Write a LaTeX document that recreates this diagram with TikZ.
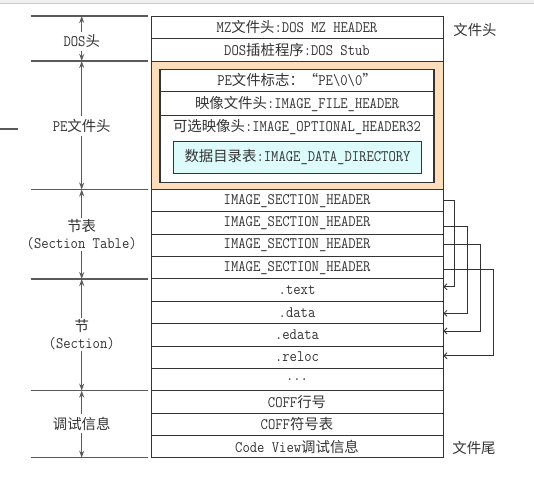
\documentclass[tikz,border=0pt]{standalone}
\usepackage{fontspec}
\newfontfamily\mono{Latin Modern Mono}[FakeStretch=0.89]
\newfontfamily\cjk{Noto Sans CJK SC}[Scale=0.9]
\newcommand\zh[1]{{\cjk #1}}
\usetikzlibrary{arrows.meta,calc}
\definecolor{peach}{HTML}{FDDDBB}
\definecolor{lcyan}{HTML}{DDFBFB}
\definecolor{ink}{HTML}{333333}
\definecolor{rulegray}{HTML}{5A5A5A}
\begin{document}
\begin{tikzpicture}[x=1pt,y=-1pt,
  every node/.style={font=\fontsize{16}{17}\selectfont\mono, text=ink},
  row/.style={draw=ink, line width=0.9pt, minimum width=292pt, minimum height=22.35pt, inner sep=0pt, fill=white},
  irow/.style={draw=ink, line width=0.9pt, minimum width=274pt, inner sep=0pt},
  brule/.style={draw=rulegray, line width=1.4pt},
  barr/.style={draw=rulegray, line width=1.2pt, -{Stealth[length=7pt,width=5pt]}},
  conn/.style={draw=ink, line width=0.8pt, -{Straight Barb[length=3pt,width=6pt]}},
  lbl/.style={inner sep=3pt, align=center, fill=white}
]
\useasboundingbox (0,0) rectangle (534,478);
% top bar
\fill[gray!12] (0,0) rectangle (534,3.5);
\draw[gray!40, line width=0.8pt] (0,3.5) -- (534,3.5);

% main column
\node[row, minimum height=22.5pt] (mz) at (297,27.25) {MZ\zh{文件头}:DOS MZ HEADER};
\node[row, minimum height=22.5pt] (stub) at (297,49.75) {DOS\zh{插桩程序}:DOS Stub};
\node[draw=ink, line width=0.9pt, fill=peach, minimum width=292pt, minimum height=128.5pt, inner sep=0pt] (pe) at (297,125.25) {};
\node[draw=ink, line width=1.4pt, fill=white, minimum width=274pt, minimum height=113pt, inner sep=0pt] (peinner) at (297,125.8) {};
\node[irow, minimum height=22.4pt] (pesig) at (297,80.5) {PE\zh{文件标志：“}PE\textbackslash 0\textbackslash 0\zh{”}};
\node[irow, minimum height=23.8pt] (fhdr) at (297,103.6) {\zh{映像文件头}:IMAGE\_FILE\_HEADER};
\node[inner sep=0pt] (ohdr) at (297,127) {\zh{可选映像头}:IMAGE\_OPTIONAL\_HEADER32};
\node[draw=ink, line width=1pt, fill=lcyan, minimum width=248.4pt, minimum height=32pt, inner sep=0pt] (ddir) at (297.5,157.3) {\zh{数据目录表}:IMAGE\_DATA\_DIRECTORY};

\node[row] (sh1) at (297,200.675) {IMAGE\_SECTION\_HEADER};
\node[row] (sh2) at (297,223.025) {IMAGE\_SECTION\_HEADER};
\node[row] (sh3) at (297,245.375) {IMAGE\_SECTION\_HEADER};
\node[row] (sh4) at (297,267.725) {IMAGE\_SECTION\_HEADER};
\node[row] (txt) at (297,290.075) {.text};
\node[row] (dat) at (297,312.425) {.data};
\node[row] (edat) at (297,334.775) {.edata};
\node[row] (rel) at (297,357.125) {.reloc};
\node[row] (dots) at (297,379.475) {...};
\node[row] (coffl) at (297,401.825) {COFF\zh{行号}};
\node[row] (coffs) at (297,424.175) {COFF\zh{符号表}};
\node[row] (cv) at (297,446.525) {Code View\zh{调试信息}};

% right labels
\node (fh) at (475,30) {\zh{文件头}};
\node (ft) at (474,448) {\zh{文件尾}};

% connectors
\draw[conn] (sh1.east) -- ++(11.4,0) |- ([yshift=3.3pt]txt.east);
\draw[conn] ([yshift=-3.7pt]sh2.east) -- ++(24.3,0) |- ([yshift=-0.9pt]dat.east);
\draw[conn] ([yshift=1.1pt]sh3.east) -- ++(37,0) |- ([yshift=3.8pt]edat.east);
\draw[conn] ([yshift=-1.6pt]sh4.east) -- ++(49.7,0) |- ([yshift=1.4pt]rel.east);

% left brackets
\foreach \yy in {16,61,189.5,279,390.65,457.7}{
  \draw[brule] (30.7,\yy) -- (147.7,\yy);
}
\coordinate (b0) at (81.7,16);
\coordinate (b1) at (81.7,61);
\coordinate (b2) at (81.7,189.5);
\coordinate (b3) at (81.7,279);
\coordinate (b4) at (81.7,390.65);
\coordinate (b5) at (81.7,457.7);

\node[lbl] (l1) at (81.7,41.5) {DOS\zh{头}};
\node[lbl] (l2) at (81.7,126) {PE\zh{文件头}};
\node[lbl, inner sep=1pt] (l3) at (81.7,234.5) {\zh{节表}\\(Section Table)};
\node[lbl, inner sep=1pt] (l4) at (81.7,334.5) {\zh{节}\\(Section)};
\node[lbl] (l5) at (81.7,423.5) {\zh{调试信息}};

\draw[barr] (l1) -- (b0);
\draw[barr] (l1) -- (b1);
\draw[barr] (l2) -- (b1);
\draw[barr] (l2) -- (b2);
\draw[barr] (l3) -- (b2);
\draw[barr] (l3) -- (b3);
\draw[barr] (l4) -- (b3);
\draw[barr] (l4) -- (b4);
\draw[barr] (l5) -- (b4);
\draw[barr] (l5) -- (b5);

% stray mark at left edge
\draw[brule] (0,129) -- (18,129);
\end{tikzpicture}
\end{document}
